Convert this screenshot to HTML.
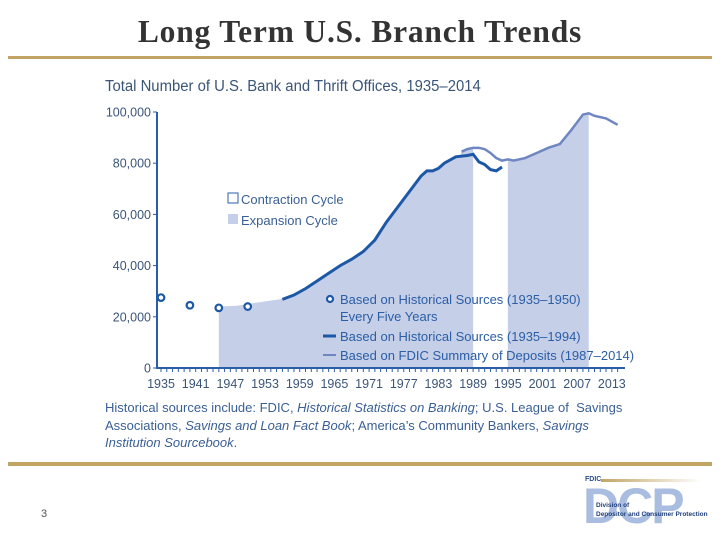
<!DOCTYPE html>
<html><head><meta charset="utf-8"><style>
body{margin:0;width:720px;height:540px;background:#fff;position:relative;overflow:hidden;font-family:"Liberation Sans",sans-serif}
.t{position:absolute;white-space:nowrap}
</style></head><body>
<div class="t" style="left:0;width:720px;text-align:center;top:14px;font:bold 31.5px 'Liberation Serif',serif;color:#333;letter-spacing:0.8px">Long Term U.S. Branch Trends</div>
<div style="position:absolute;left:8px;top:56px;width:704px;height:3px;background:#c2a565"></div>
<div style="position:absolute;left:8px;top:462px;width:704px;height:4px;background:#c2a565"></div>
<div class="t" style="left:41px;top:508px;font-size:11px;color:#555">3</div>
<div class="t" style="left:105px;top:78px;font-size:15.5px;color:#3a5578;transform:scaleX(0.96);transform-origin:left">Total Number of U.S. Bank and Thrift Offices, 1935–2014</div>
<div class="t" style="left:105px;top:399px;font-size:13px;line-height:17.5px;color:#3a5f95">Historical sources include: FDIC, <i>Historical Statistics on Banking</i>; U.S. League of &nbsp;Savings<br>Associations, <i>Savings and Loan Fact Book</i>; America’s Community Bankers, <i>Savings<br>Institution Sourcebook</i>.</div>
<svg id="chart" width="720" height="540" style="position:absolute;left:0;top:0"></svg>
<div style="position:absolute;left:583px;top:476px;width:125px;height:56px;overflow:hidden">
<div class="t" style="left:2px;top:0;font-size:7px;font-weight:bold;color:#2a4f8a">FDIC</div>
<div style="position:absolute;left:18px;top:3px;width:100px;height:3px;background:linear-gradient(90deg,#c2a565,#fff)"></div>
<div class="t" style="left:0;top:4px;font:bold 50px 'Liberation Sans',sans-serif;color:#a9bde0;letter-spacing:-2px;line-height:52px">DCP</div>
<div class="t" style="left:13px;top:26px;font-size:6.5px;line-height:8.5px;color:#1f3f7a;font-weight:bold">Division of<br>Depositor and Consumer Protection</div>
</div>
<script>
const years=[1935,1941,1947,1953,1959,1965,1971,1977,1983,1989,1995,2001,2007,2013];
const yTicks=[0,20000,40000,60000,80000,100000];
const pointYears=[1935,1940,1945,1950];
const pointVals=[27500,24500,23500,24000];
const earlyYears=[1945,1948,1950,1953,1956];
const earlyVals=[24000,24300,25000,26000,27000];
const histYears=[1956,1958,1960,1962,1964,1966,1968,1970,1972,1974,1976,1978,1980,1981,1982,1983,1984,1986,1988,1989,1990,1991,1992,1993,1994];
const histVals=[26800,28500,31000,34000,37000,40000,42500,45500,50000,57000,63000,69000,75000,77000,77000,78000,80000,82500,83000,83500,80500,79500,77500,77000,78500];
const sodYears=[1987,1988,1989,1990,1991,1992,1993,1994,1995,1996,1998,2000,2002,2004,2006,2008,2009,2010,2012,2014];
const sodVals=[84500,85500,86000,86000,85500,84000,82000,81000,81500,81000,82000,84000,86000,87500,93000,99000,99500,98500,97500,95000];
const expansions=[[1945,1989],[1995,2009]];
const NS="http://www.w3.org/2000/svg",svg=document.getElementById('chart');
const X=y=>161+(y-1935)*5.78, Y=v=>368-v*0.00256;
function mk(t,a){const e=document.createElementNS(NS,t);for(const k in a)e.setAttribute(k,a[k]);svg.appendChild(e);return e;}
function interp(ys,vs,y){for(let i=0;i<ys.length-1;i++)if(y>=ys[i]&&y<=ys[i+1])return vs[i]+(vs[i+1]-vs[i])*(y-ys[i])/(ys[i+1]-ys[i]);return null;}
function topVal(y){let v=null;const a=interp(earlyYears,earlyVals,y),b=interp(histYears,histVals,y),c=interp(sodYears,sodVals,y);[a,b,c].forEach(q=>{if(q!==null&&(v===null||q>v))v=q;});return v===null?0:v;}
expansions.forEach((r,i)=>{let d=`M${X(r[0])},${Y(0)}`;for(let y=r[0];y<=r[1]+1e-6;y+=0.25){d+=` L${X(y)},${Y(topVal(y))}`;}d+=` L${X(r[1])},${Y(0)}Z`;
const p=mk('path',{d,fill:'#c5cfe8'});

});
const ax=mk('path',{d:`M157,${Y(100000)}V${Y(0)}H625`,stroke:'#2a5ea8','stroke-width':2,fill:'none'});


for(let y=1935;y<=2014;y++){const t=mk('line',{x1:X(y),x2:X(y),y1:Y(0),y2:Y(0)+4,stroke:'#2a5ea8','stroke-width':1});

}
years.forEach(y=>{const t=mk('text',{x:X(y),y:388,'text-anchor':'middle','font-size':12.5,fill:'#3a5578','font-family':'Liberation Sans'});t.textContent=y;

});
yTicks.forEach(v=>{const l=mk('line',{x1:153,x2:157,y1:Y(v),y2:Y(v),stroke:'#2a5ea8'});


const t=mk('text',{x:151,y:Y(v)+4.5,'text-anchor':'end','font-size':12.5,fill:'#3a5578','font-family':'Liberation Sans'});t.textContent=v.toLocaleString('en-US');

});
const sod=mk('polyline',{points:sodYears.map((y,i)=>X(y)+','+Y(sodVals[i])).join(' '),fill:'none',stroke:'#6f86c2','stroke-width':2.5});


const hist=mk('polyline',{points:histYears.map((y,i)=>X(y)+','+Y(histVals[i])).join(' '),fill:'none',stroke:'#1d58a6','stroke-width':3});


pointYears.forEach((y,i)=>{const c=mk('circle',{cx:X(y),cy:Y(pointVals[i]),r:3.3,fill:'#fff',stroke:'#1d58a6','stroke-width':2.2});

});
function leg(txt,x,y,col){const t=mk('text',{x,y,'font-size':13,fill:col,'font-family':'Liberation Sans'});t.textContent=txt;

return t;}
const b1=mk('rect',{x:228,y:193,width:10,height:10,fill:'#fff',stroke:'#2a5ea8'});


const b2=mk('rect',{x:228,y:214,width:10,height:10,fill:'#c5cfe8'});


leg('Contraction Cycle',241,204,'#3a5f95');leg('Expansion Cycle',241,225,'#3a5f95');
const lc=mk('circle',{cx:330,cy:299,r:3,fill:'#fff',stroke:'#1d58a6','stroke-width':2.2});


leg('Based on Historical Sources (1935–1950)',340,304,'#2b5ea5');leg('Every Five Years',340,321,'#2b5ea5');
const l1=mk('line',{x1:323,x2:336,y1:336,y2:336,stroke:'#1d58a6','stroke-width':3});


leg('Based on Historical Sources (1935–1994)',340,341,'#2b5ea5');
const l2=mk('line',{x1:323,x2:336,y1:355,y2:355,stroke:'#6f86c2','stroke-width':2});


leg('Based on FDIC Summary of Deposits (1987–2014)',340,360,'#2b5ea5');
</script>
</body></html>
